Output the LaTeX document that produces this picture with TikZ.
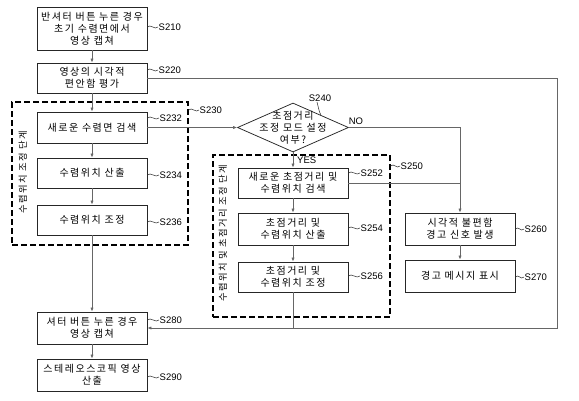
\documentclass[tikz,border=0pt]{standalone}
\usepackage{fontspec}
\setmainfont{Liberation Sans}
\newfontfamily\cjk[LetterSpace=15]{Noto Sans CJK KR}
\usetikzlibrary{shapes.geometric,arrows.meta}
\newcommand\boxfont{\cjk\fontsize{10}{12}\selectfont}
\newcommand\vertfont{\cjk\fontsize{9.3}{11}\selectfont}
\newcommand\labfont{\fontsize{9.5}{11}\selectfont}
\tikzset{
  stepbox/.style={draw=black!85, line width=0.75pt, fill=white, minimum width=110pt, inner sep=0pt, align=center, font=\boxfont},
  dbox/.style={draw=black, line width=1.3pt, dash pattern=on 6pt off 3pt},
  ln/.style={draw=black!60, line width=0.7pt},
  arr/.style={ln, -{Latex[length=4pt,width=3.2pt]}},
  lab/.style={font=\labfont, inner sep=0.5pt, anchor=west},
  tl/.style={draw=black!80, line width=0.55pt},
  vtxt/.style={font=\vertfont, rotate=90, inner sep=0pt},
}
\newcommand\tild[2]{\draw[tl] (#1.west -| #2.east) .. controls +(3,-3.5) and +(-3,3.5) .. (#1.west);}
\begin{document}
\begin{tikzpicture}[x=1pt,y=-1pt]
\useasboundingbox (0,0) rectangle (579,400);
% dashed groups
\node[dbox, minimum width=176pt, minimum height=143pt, inner sep=0pt] (g230) at (100,173.5) {};
\node[dbox, minimum width=177pt, minimum height=162pt, inner sep=0pt] (g250) at (301.5,236) {};
\node[vtxt] (v230) at (23,172) {수렴위치 조정 단계};
\node[vtxt] (v250) at (223,233) {수렴위치 및 초점거리 조정 단계};
% boxes
\node[stepbox, minimum height=43pt] (s210) at (92,28.5) {반셔터 버튼 누른 경우\\초기 수렴면에서\\영상 캡쳐};
\node[stepbox, minimum height=30pt] (s220) at (92,78) {영상의 시각적\\편안함 평가};
\node[stepbox, minimum height=31pt] (s232) at (92,127.5) {새로운 수렴면 검색};
\node[stepbox, minimum height=30pt] (s234) at (92,173) {수렴위치 산출};
\node[stepbox, minimum height=30pt] (s236) at (92,220) {수렴위치 조정};
\node[stepbox, minimum height=32pt] (s280) at (92,328) {셔터 버튼 누른 경우\\영상 캡쳐};
\node[stepbox, minimum height=32pt] (s290) at (92,375) {스테레오스코픽 영상\\산출};
\node[draw=black!85, line width=0.75pt, fill=white, diamond, minimum width=111pt, minimum height=49pt, inner sep=0pt] (s240) at (293,127.5) {};
\node[font=\boxfont, align=center, inner sep=0pt] (s240t) at (293,128) {초점거리\\조정 모드 설정\\여부?};
\node[stepbox, minimum height=30pt] (s252) at (293,183) {새로운 초점거리 및\\수렴위치 검색};
\node[stepbox, minimum height=32pt] (s254) at (293,229) {초점거리 및\\수렴위치 산출};
\node[stepbox, minimum height=30pt] (s256) at (293,277) {초점거리 및\\수렴위치 조정};
\node[stepbox, minimum height=32pt] (s260) at (460,229) {시각적 불편함\\경고 신호 발생};
\node[stepbox, minimum height=32pt] (s270) at (460,276) {경고 메시지 표시};
% corner coordinates
\coordinate (rtop) at (557,78);
\coordinate (rbot) at (557,328);
\coordinate (nocorner) at (460,127.5);
\coordinate (j256) at (293,328);
% connectors
\draw[arr] (s210) -- (s220);
\draw[arr] (s220) -- (s232);
\draw[arr] (s232) -- (s234);
\draw[arr] (s234) -- (s236);
\draw[arr] (s236) -- (s280);
\draw[arr] (s280) -- (s290);
\draw[arr] (s232.east) -- (s240.west);
\draw[arr] (s240.south) -- (s252.north);
\draw[arr] (s240.east) -- (nocorner) -- (s260.north);
\draw[ln] (s252.east) -- (s252.east -| s260.north);
\draw[arr] (s252) -- (s254);
\draw[arr] (s254) -- (s256);
\draw[ln] (s256.south) -- (j256);
\draw[arr] (s260) -- (s270);
\draw[arr] (s220.east) -- (rtop) -- (rbot) -- (s280.east);
% yes / no
\node[font=\labfont, inner sep=0pt, anchor=west] (yes) at (297,160) {YES};
\node[font=\labfont, inner sep=0pt] (no) at (356,121) {NO};
% step labels
\node[lab] (l210) at (158,27) {S210};
\node[lab] (l220) at (158,70) {S220};
\node[lab] (l230) at (199,110) {S230};
\node[lab] (l232) at (159,118) {S232};
\node[lab] (l234) at (159,175) {S234};
\node[lab] (l236) at (159,222) {S236};
\node[lab] (l250) at (400,166) {S250};
\node[lab] (l252) at (360,173) {S252};
\node[lab] (l254) at (360,228) {S254};
\node[lab] (l256) at (360,276) {S256};
\node[lab] (l260) at (524,229) {S260};
\node[lab] (l270) at (524,277) {S270};
\node[lab] (l280) at (159,320) {S280};
\node[lab] (l290) at (159,377) {S290};
\node[font=\labfont, inner sep=0.5pt] (l240) at (320,98) {S240};
\tild{l210}{s210}
\tild{l220}{s220}
\tild{l230}{g230}
\tild{l232}{s232}
\tild{l234}{s234}
\tild{l236}{s236}
\tild{l250}{g250}
\tild{l252}{s252}
\tild{l254}{s254}
\tild{l256}{s256}
\tild{l260}{s260}
\tild{l270}{s270}
\tild{l280}{s280}
\tild{l290}{s290}
\draw[tl] ([xshift=-3pt]l240.south) .. controls +(1,3) and +(-2,-3) .. (s240.north east);
\end{tikzpicture}
\end{document}
